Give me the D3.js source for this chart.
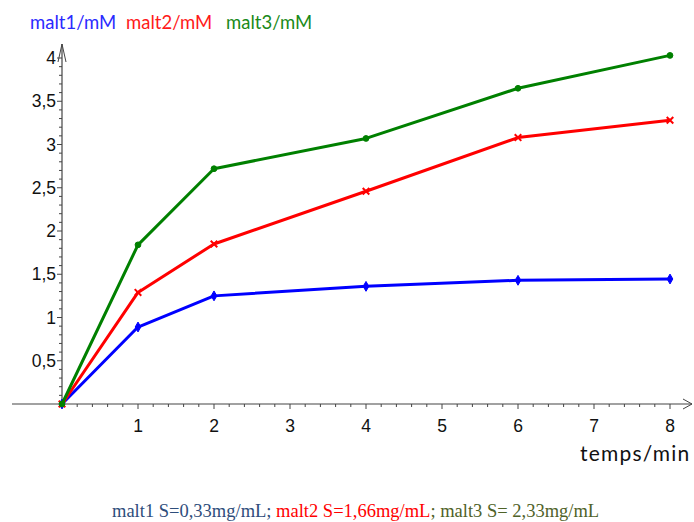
<!DOCTYPE html>
<html>
<head>
<meta charset="utf-8">
<script src="https://cdn.jsdelivr.net/npm/d3@7"></script>
<style>
  html, body { margin: 0; padding: 0; background: #fff; overflow: hidden; }
  svg { display: block; }
</style>
</head>
<body>
<svg id="chart" width="694" height="522"></svg>
<script>
// Measurements over time (min)
const times = [0, 1, 2, 4, 6, 8];
const malt1 = [0, 0.89, 1.25, 1.36, 1.43, 1.445];
const malt2 = [0, 1.29, 1.85, 2.46, 3.08, 3.28];
const malt3 = [0, 1.84, 2.72, 3.07, 3.65, 4.03];

const seriesNames = ["malt1/mM", "malt2/mM", "malt3/mM"];
const seriesColors = ["#0000ff", "#ff0000", "#008000"];
const legendColors = ["#2a2aff", "#ff1a1a", "#1a8a1a"];
const xTicks = [1, 2, 3, 4, 5, 6, 7, 8];
const yTicks = [0.5, 1, 1.5, 2, 2.5, 3, 3.5, 4];
const yTickLabels = ["0,5", "1", "1,5", "2", "2,5", "3", "3,5", "4"];

const svg = d3.select("#chart");

const x = d3.scaleLinear().domain([0, 8]).range([62, 670]);
const y = d3.scaleLinear().domain([0, 4]).range([404, 58]);

const axisColor = "#444";

// Horizontal axis with arrow
const gx = svg.append("g");
gx.append("line")
  .attr("x1", 12).attr("x2", 692)
  .attr("y1", y(0)).attr("y2", y(0))
  .attr("stroke", axisColor).attr("stroke-width", 1.2);
gx.append("path")
  .attr("d", `M683,${y(0) - 5} L692,${y(0)} L683,${y(0) + 5}`)
  .attr("fill", "none").attr("stroke", axisColor).attr("stroke-width", 1);
d3.range(0.2, 8.01, 0.2).forEach(v => {
  const major = Math.abs(v - Math.round(v)) < 1e-6;
  gx.append("line")
    .attr("x1", x(v)).attr("x2", x(v))
    .attr("y1", y(0)).attr("y2", y(0) + (major ? 5 : 3))
    .attr("stroke", axisColor).attr("stroke-width", 1);
});
gx.selectAll("text.xl").data(xTicks).enter().append("text")
  .attr("x", d => x(d)).attr("y", 432)
  .attr("text-anchor", "middle")
  .attr("font-family", "Liberation Sans, Arial, sans-serif")
  .attr("font-size", 17.5).attr("fill", "#111")
  .text(d => d);

// Vertical axis with arrow
const gy = svg.append("g");
gy.append("line")
  .attr("x1", x(0)).attr("x2", x(0))
  .attr("y1", y(0)).attr("y2", 44)
  .attr("stroke", axisColor).attr("stroke-width", 1.2);
gy.append("path")
  .attr("d", `M${x(0) - 4},62 L${x(0)},44 L${x(0) + 4},62`)
  .attr("fill", "none").attr("stroke", axisColor).attr("stroke-width", 1);
d3.range(0.1, 4.001, 0.1).forEach(v => {
  const major = Math.abs(v * 2 - Math.round(v * 2)) < 1e-6;
  gy.append("line")
    .attr("x1", x(0) - (major ? 5 : 3)).attr("x2", x(0))
    .attr("y1", y(v)).attr("y2", y(v))
    .attr("stroke", axisColor).attr("stroke-width", 1);
});
gy.selectAll("text.yl").data(yTicks).enter().append("text")
  .attr("x", 56).attr("y", d => y(d) + 6)
  .attr("text-anchor", "end")
  .attr("font-family", "Liberation Sans, Arial, sans-serif")
  .attr("font-size", 17.5).attr("fill", "#111")
  .text((d, i) => yTickLabels[i]);

// Axis title (runs off the right edge)
svg.append("text")
  .attr("x", 580).attr("y", 461)
  .attr("font-family", "Lato, Open Sans, sans-serif")
  .attr("font-size", 21).attr("letter-spacing", 1.2).attr("fill", "#111")
  .text("temps/min");

// Series lines and markers
const series = [malt1, malt2, malt3];
const symbols = [d3.symbolDiamond, d3.symbolTimes, d3.symbolCircle];
const symSizes = [28, 30, 26];
const line = d3.line().x(d => x(d[0])).y(d => y(d[1]));

series.forEach((vals, i) => {
  const pts = times.map((t, j) => [t, vals[j]]);
  svg.append("path")
    .datum(pts)
    .attr("d", line)
    .attr("fill", "none")
    .attr("stroke", seriesColors[i])
    .attr("stroke-width", 3)
    .attr("stroke-linejoin", "round");
  svg.selectAll(null).data(pts).enter().append("path")
    .attr("transform", d => `translate(${x(d[0])},${y(d[1])})`)
    .attr("d", d3.symbol().type(symbols[i]).size(symSizes[i]))
    .attr("fill", seriesColors[i])
    .attr("stroke", seriesColors[i])
    .attr("stroke-width", i === 1 ? 2 : 1);
});

// Legend across the top
const legendX = [30, 126, 226];
svg.selectAll("text.leg").data(seriesNames).enter().append("text")
  .attr("x", (d, i) => legendX[i]).attr("y", 29)
  .attr("font-family", "Lato, Open Sans, sans-serif")
  .attr("font-size", 18.5)
  .attr("fill", (d, i) => legendColors[i])
  .text(d => d);

// Caption with concentrations
const caption = svg.append("text")
  .attr("x", 112).attr("y", 517)
  .attr("font-family", "Liberation Serif, Times New Roman, serif")
  .attr("font-size", 18.5);
caption.append("tspan").attr("fill", "#2e4d7b").text("malt1 S=0,33mg/mL; ");
caption.append("tspan").attr("fill", "#ff0000").text("malt2 S=1,66mg/mL");
caption.append("tspan").attr("fill", "#4f6228").text("; malt3 S= 2,33mg/mL");
</script>
</body>
</html>
